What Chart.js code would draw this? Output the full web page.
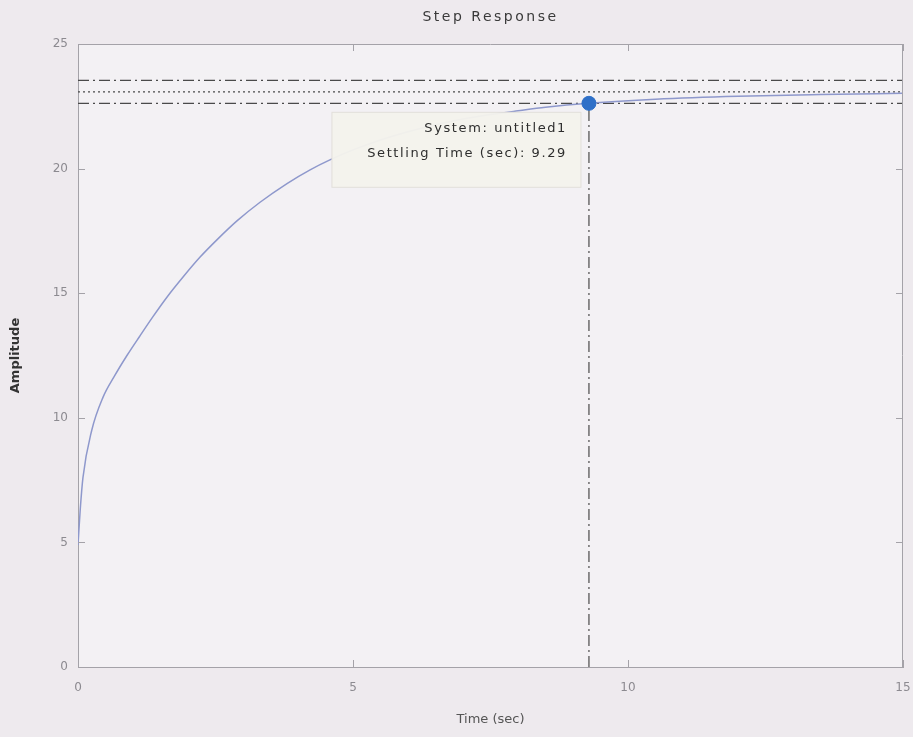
<!DOCTYPE html>
<html>
<head>
<meta charset="utf-8">
<title>Step Response</title>
<script src="https://cdn.jsdelivr.net/npm/chart.js@4.4.1/dist/chart.umd.min.js"></script>
<style>
    html, body { margin: 0; padding: 0; background: #eeeaee; }
    #wrap { width: 913px; height: 737px; }
</style>
</head>
<body>
<div id="wrap"><canvas id="chartStep" width="913" height="737"></canvas></div>
<script>
// step response (time in sec, amplitude)
const timeSec   = [0, 0.04, 0.09, 0.25, 0.45, 0.67, 0.89, 1.13, 1.36, 1.62, 1.91, 2.22, 2.53, 2.89, 3.31, 3.80, 4.22, 4.58, 5.0, 5.5, 6.0, 6.5, 7.0, 7.5, 8.0, 8.5, 9.29, 10.5, 12.0, 13.5, 15.0];
const amplitude = [4.9, 6.3, 7.6, 9.5, 10.8, 11.7, 12.5, 13.3, 14.05, 14.85, 15.65, 16.45, 17.15, 17.9, 18.65, 19.4, 19.95, 20.35, 20.75, 21.15, 21.48, 21.76, 21.99, 22.17, 22.32, 22.46, 22.62, 22.78, 22.9, 22.97, 23.02];

const finalValue = 23.08;
const upperBound = 23.54;
const lowerBound = 22.62;
const settlingTime = 9.29;

const xTicks = [0, 5, 10, 15];
const yTicks = [0, 5, 10, 15, 20, 25];
const tipLines = ['System: untitled1', 'Settling Time (sec): 9.29'];

const dashDot = [11, 4, 2, 4];

function hLine(v) {
    return [{ x: xTicks[0], y: v }, { x: xTicks[xTicks.length - 1], y: v }];
}

// MATLAB style frame: title, box, inward ticks, data tip
const matlabFrame = {
    id: 'matlabFrame',
    beforeDraw(chart) {
        const { ctx, chartArea: a } = chart;
        ctx.save();
        ctx.fillStyle = '#f3f1f4';
        ctx.fillRect(a.left, a.top, a.right - a.left, a.bottom - a.top);
        ctx.restore();
    },
    afterDatasetsDraw(chart) {
        const { ctx, chartArea: a, scales } = chart;
        const x = scales.x, y = scales.y;
        ctx.save();
        ctx.strokeStyle = '#a4a2a8';
        ctx.lineWidth = 1;
        ctx.beginPath();
        ctx.moveTo(a.left, a.top + 0.5);
        ctx.lineTo(a.right, a.top + 0.5);
        ctx.moveTo(a.right - 0.5, a.top);
        ctx.lineTo(a.right - 0.5, a.bottom);
        xTicks.forEach(t => {
            const px = Math.round(x.getPixelForValue(t)) + 0.5;
            ctx.moveTo(px, a.bottom); ctx.lineTo(px, a.bottom - 7);
            ctx.moveTo(px, a.top); ctx.lineTo(px, a.top + 7);
        });
        yTicks.forEach(t => {
            const py = Math.round(y.getPixelForValue(t)) + 0.5;
            ctx.moveTo(a.left, py); ctx.lineTo(a.left + 7, py);
            ctx.moveTo(a.right, py); ctx.lineTo(a.right - 7, py);
        });
        ctx.stroke();

        // title
        ctx.fillStyle = '#3a3a3a';
        ctx.font = '14px "DejaVu Sans"';
        ctx.letterSpacing = '2.5px';
        ctx.textAlign = 'center';
        ctx.textBaseline = 'middle';
        ctx.fillText('Step Response', (a.left + a.right) / 2, 17);

        // data tip
        const mx = x.getPixelForValue(settlingTime);
        const my = y.getPixelForValue(lowerBound);
        ctx.fillStyle = 'rgba(244, 242, 236, 0.96)';
        ctx.strokeStyle = '#e2dfda';
        ctx.fillRect(mx - 257, my + 9, 249, 75);
        ctx.strokeRect(mx - 257, my + 9, 249, 75);
        ctx.fillStyle = '#2e2e2e';
        ctx.font = '13px "DejaVu Sans"';
        ctx.letterSpacing = '1.6px';
        ctx.textAlign = 'right';
        ctx.fillText(tipLines[0], mx - 22, my + 25);
        ctx.fillText(tipLines[1], mx - 22, my + 50);
        ctx.restore();
    }
};

const ctxStep = document.getElementById('chartStep').getContext('2d');

const chartStep = new Chart(ctxStep, {
    type: 'scatter',
    data: {
        datasets: [
            {
                label: 'Settling Time',
                data: [{ x: settlingTime, y: lowerBound }],
                pointRadius: 7,
                pointBackgroundColor: '#2f70c8',
                pointBorderColor: '#2f70c8',
                showLine: false
            },
            {
                label: 'untitled1',
                data: timeSec.map((t, i) => ({ x: t, y: amplitude[i] })),
                showLine: true,
                borderColor: '#8e98cc',
                borderWidth: 1.5,
                pointRadius: 0,
                cubicInterpolationMode: 'monotone',
                fill: false
            },
            {
                label: 'Upper bound',
                data: hLine(upperBound),
                showLine: true,
                borderColor: '#4a4a4a',
                borderWidth: 1.3,
                borderDash: dashDot,
                pointRadius: 0
            },
            {
                label: 'Final value',
                data: hLine(finalValue),
                showLine: true,
                borderColor: '#4a4a4a',
                borderWidth: 1.3,
                borderDash: [2, 3],
                pointRadius: 0
            },
            {
                label: 'Lower bound',
                data: hLine(lowerBound),
                showLine: true,
                borderColor: '#4a4a4a',
                borderWidth: 1.3,
                borderDash: dashDot,
                pointRadius: 0
            },
            {
                label: 'Settling line',
                data: [{ x: settlingTime, y: 0 }, { x: settlingTime, y: lowerBound }],
                showLine: true,
                borderColor: '#4a4a4a',
                borderWidth: 1.2,
                borderDash: dashDot,
                pointRadius: 0
            }
        ]
    },
    options: {
        responsive: false,
        animation: false,
        layout: {
            padding: { left: 8, right: 10, top: 44, bottom: 0 }
        },
        plugins: {
            legend: { display: false },
            tooltip: { enabled: false },
            title: { display: false }
        },
        scales: {
            x: {
                type: 'linear',
                min: 0,
                max: 15,
                afterBuildTicks: scale => { scale.ticks = xTicks.map(v => ({ value: v })); },
                afterFit: scale => {
                    scale.height = 70;
                    scale.paddingLeft = 0;
                    scale.paddingRight = 0;
                },
                ticks: {
                    color: '#8c8a90',
                    font: { family: 'DejaVu Sans', size: 12 },
                    padding: 14
                },
                grid: { drawOnChartArea: false, drawTicks: false },
                border: { display: true, color: '#a4a2a8' },
                title: {
                    display: true,
                    text: 'Time (sec)',
                    color: '#555',
                    font: { family: 'DejaVu Sans', size: 13 },
                    padding: { top: 4, bottom: 10 }
                }
            },
            y: {
                type: 'linear',
                min: 0,
                max: 25,
                afterBuildTicks: scale => { scale.ticks = yTicks.map(v => ({ value: v })); },
                afterFit: scale => { scale.width = 70; },
                ticks: {
                    color: '#8c8a90',
                    font: { family: 'DejaVu Sans', size: 12 },
                    padding: 10
                },
                grid: { drawOnChartArea: false, drawTicks: false },
                border: { display: true, color: '#a4a2a8' },
                title: {
                    display: true,
                    text: 'Amplitude',
                    color: '#333',
                    font: { family: 'DejaVu Sans', size: 13, weight: 'bold' },
                    padding: { top: 0, bottom: 0 }
                }
            }
        }
    },
    plugins: [matlabFrame]
});
</script>
</body>
</html>
